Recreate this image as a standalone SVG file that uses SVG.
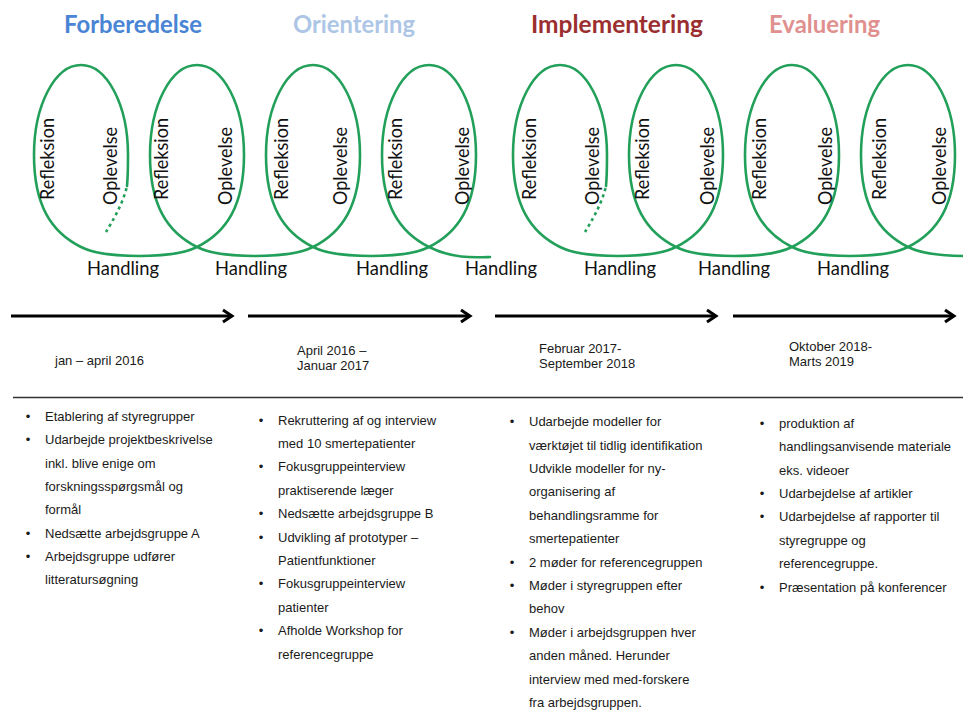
<svg xmlns="http://www.w3.org/2000/svg" width="963" height="710" viewBox="0 0 963 710">
  <style>
    .phase { font-family: Lato, "Open Sans", sans-serif; font-weight: bold; font-size: 24px; }
    .loop { fill: none; stroke: #22a05a; stroke-width: 2.6; stroke-linejoin: round; stroke-linecap: round; }
    .loop-start { fill: none; stroke: #22a05a; stroke-width: 2.6; stroke-dasharray: 3 3.5; }
    .cyc { font-family: Lato, "Open Sans", sans-serif; font-size: 19px; fill: #111; }
    .arrow { fill: none; stroke: #000; stroke-width: 3; }
    .head { fill: none; stroke: #000; stroke-width: 3; stroke-linejoin: miter; }
    .date { font-family: "Liberation Sans", Arial, sans-serif; font-size: 13px; fill: #1a1a1a; }
    .item { font-family: "Liberation Sans", Arial, sans-serif; font-size: 13px; fill: #1a1a1a; }
    .bullet { font-family: "Liberation Sans", Arial, sans-serif; font-size: 13px; fill: #1a1a1a; text-anchor: middle; }
  </style>
  <defs>
    <!-- one run of four experiential-learning loops -->
    <path id="loops" d="M127,186 C128,176 128,166 128,155
      C128,105 107,65 81,65 C55,65 34,105 34,155 C34,205 51,232 81,247
      C105,259 173,259 197,247
      C227,232 244,205 244,155 C244,105 223,65 197,65 C171,65 150,105 150,155 C150,205 167,232 197,247
      C221,259 289,259 313,247
      C343,232 360,205 360,155 C360,105 339,65 313,65 C287,65 266,105 266,155 C266,205 283,232 313,247
      C337,259 405,259 429,247
      C459,232 476,205 476,155 C476,105 455,65 429,65 C403,65 382,105 382,155 C382,205 399,232 429,247"/>
  </defs>

  <!-- phase headings -->
  <g id="phases">
    <text class="phase" x="64" y="33" fill="#4a84d4" textLength="138" lengthAdjust="spacingAndGlyphs">Forberedelse</text>
    <text class="phase" x="293" y="33" fill="#aec6e6" textLength="122" lengthAdjust="spacingAndGlyphs">Orientering</text>
    <text class="phase" x="531" y="33" fill="#9b2f2f" textLength="172" lengthAdjust="spacingAndGlyphs">Implementering</text>
    <text class="phase" x="769" y="33" fill="#e0908e" textLength="111" lengthAdjust="spacingAndGlyphs">Evaluering</text>
  </g>

  <!-- learning-cycle loops -->
  <g id="cycle-left">
    <path class="loop-start" d="M106,232 C112,222 123,204 127,186"/>
    <use href="#loops" class="loop"/>
    <path class="loop" d="M429,247 C453,259 475,257.5 490,257"/>
  </g>
  <g id="cycle-right" transform="translate(479,0)">
    <path class="loop-start" d="M106,232 C112,222 123,204 127,186"/>
    <use href="#loops" class="loop"/>
    <path class="loop" d="M429,247 C453,259 521,259 545,247"/>
  </g>

  <!-- loop labels -->
  <g id="cycle-labels" class="cyc" text-anchor="middle">
    <text transform="translate(54,159) rotate(-90)" textLength="82" lengthAdjust="spacingAndGlyphs">Refleksion</text>
    <text transform="translate(117,166) rotate(-90)" textLength="78" lengthAdjust="spacingAndGlyphs">Oplevelse</text>
    <text transform="translate(168,159) rotate(-90)" textLength="82" lengthAdjust="spacingAndGlyphs">Refleksion</text>
    <text transform="translate(232,166) rotate(-90)" textLength="78" lengthAdjust="spacingAndGlyphs">Oplevelse</text>
    <text transform="translate(288,159) rotate(-90)" textLength="82" lengthAdjust="spacingAndGlyphs">Refleksion</text>
    <text transform="translate(347,166) rotate(-90)" textLength="78" lengthAdjust="spacingAndGlyphs">Oplevelse</text>
    <text transform="translate(402,159) rotate(-90)" textLength="82" lengthAdjust="spacingAndGlyphs">Refleksion</text>
    <text transform="translate(469,166) rotate(-90)" textLength="78" lengthAdjust="spacingAndGlyphs">Oplevelse</text>
    <text transform="translate(536,159) rotate(-90)" textLength="82" lengthAdjust="spacingAndGlyphs">Refleksion</text>
    <text transform="translate(599,166) rotate(-90)" textLength="78" lengthAdjust="spacingAndGlyphs">Oplevelse</text>
    <text transform="translate(649,159) rotate(-90)" textLength="82" lengthAdjust="spacingAndGlyphs">Refleksion</text>
    <text transform="translate(714,166) rotate(-90)" textLength="78" lengthAdjust="spacingAndGlyphs">Oplevelse</text>
    <text transform="translate(766,159) rotate(-90)" textLength="82" lengthAdjust="spacingAndGlyphs">Refleksion</text>
    <text transform="translate(832,166) rotate(-90)" textLength="78" lengthAdjust="spacingAndGlyphs">Oplevelse</text>
    <text transform="translate(886,159) rotate(-90)" textLength="82" lengthAdjust="spacingAndGlyphs">Refleksion</text>
    <text transform="translate(946,166) rotate(-90)" textLength="78" lengthAdjust="spacingAndGlyphs">Oplevelse</text>
  </g>
  <g id="action-labels" class="cyc">
    <text x="87" y="275" textLength="72" lengthAdjust="spacingAndGlyphs">Handling</text>
    <text x="215" y="275" textLength="72" lengthAdjust="spacingAndGlyphs">Handling</text>
    <text x="356" y="275" textLength="72" lengthAdjust="spacingAndGlyphs">Handling</text>
    <text x="465" y="275" textLength="72" lengthAdjust="spacingAndGlyphs">Handling</text>
    <text x="584" y="275" textLength="72" lengthAdjust="spacingAndGlyphs">Handling</text>
    <text x="698" y="275" textLength="72" lengthAdjust="spacingAndGlyphs">Handling</text>
    <text x="817" y="275" textLength="72" lengthAdjust="spacingAndGlyphs">Handling</text>
  </g>

  <!-- timeline arrows -->
  <g id="timeline">
    <line class="arrow" x1="11" y1="316" x2="230" y2="316"/>
    <path class="head" d="M223,310 L232,316 L223,322"/>
    <line class="arrow" x1="248" y1="316" x2="468" y2="316"/>
    <path class="head" d="M461,310 L470,316 L461,322"/>
    <line class="arrow" x1="495" y1="316" x2="714" y2="316"/>
    <path class="head" d="M707,310 L716,316 L707,322"/>
    <line class="arrow" x1="733" y1="316" x2="952" y2="316"/>
    <path class="head" d="M945,310 L954,316 L945,322"/>
  </g>

  <g id="periods" class="date">
    <text x="55" y="365">jan – april 2016</text>
    <text x="297" y="355">April 2016 –</text>
    <text x="297" y="370">Januar 2017</text>
    <text x="539" y="353">Februar 2017-</text>
    <text x="539" y="368">September 2018</text>
    <text x="789" y="351">Oktober 2018-</text>
    <text x="789" y="366">Marts 2019</text>
  </g>

  <line id="divider" x1="13" y1="397.5" x2="963" y2="397.5" stroke="#333" stroke-width="1.5"/>

  <!-- activity lists -->
  <g id="list-forberedelse">
    <g class="bullet">
      <text x="28" y="421">•</text>
      <text x="28" y="444.3">•</text>
      <text x="28" y="537.7">•</text>
      <text x="28" y="561">•</text>
    </g>
    <g class="item">
      <text x="45" y="421">Etablering af styregrupper</text>
      <text x="45" y="444.3">Udarbejde projektbeskrivelse</text>
      <text x="45" y="467.7">inkl. blive enige om</text>
      <text x="45" y="491">forskningsspørgsmål og</text>
      <text x="45" y="514.3">formål</text>
      <text x="45" y="537.7">Nedsætte arbejdsgruppe A</text>
      <text x="45" y="561">Arbejdsgruppe udfører</text>
      <text x="45" y="584.3">litteratursøgning</text>
    </g>
  </g>

  <g id="list-orientering">
    <g class="bullet">
      <text x="261" y="424.5">•</text>
      <text x="261" y="471.3">•</text>
      <text x="261" y="518.1">•</text>
      <text x="261" y="541.5">•</text>
      <text x="261" y="588.3">•</text>
      <text x="261" y="635.1">•</text>
    </g>
    <g class="item">
      <text x="278" y="424.5">Rekruttering af og interview</text>
      <text x="278" y="447.9">med 10 smertepatienter</text>
      <text x="278" y="471.3">Fokusgruppeinterview</text>
      <text x="278" y="494.7">praktiserende læger</text>
      <text x="278" y="518.1">Nedsætte arbejdsgruppe B</text>
      <text x="278" y="541.5">Udvikling af prototyper –</text>
      <text x="278" y="564.9">Patientfunktioner</text>
      <text x="278" y="588.3">Fokusgruppeinterview</text>
      <text x="278" y="611.7">patienter</text>
      <text x="278" y="635.1">Afholde Workshop for</text>
      <text x="278" y="658.5">referencegruppe</text>
    </g>
  </g>

  <g id="list-implementering">
    <g class="bullet">
      <text x="512" y="426.2">•</text>
      <text x="512" y="566.6">•</text>
      <text x="512" y="590">•</text>
      <text x="512" y="636.8">•</text>
    </g>
    <g class="item">
      <text x="529" y="426.2">Udarbejde modeller for</text>
      <text x="529" y="449.6">værktøjet til tidlig identifikation</text>
      <text x="529" y="473">Udvikle modeller for ny-</text>
      <text x="529" y="496.4">organisering af</text>
      <text x="529" y="519.8">behandlingsramme for</text>
      <text x="529" y="543.2">smertepatienter</text>
      <text x="529" y="566.6">2 møder for referencegruppen</text>
      <text x="529" y="590">Møder i styregruppen efter</text>
      <text x="529" y="613.4">behov</text>
      <text x="529" y="636.8">Møder i arbejdsgruppen hver</text>
      <text x="529" y="660.2">anden måned. Herunder</text>
      <text x="529" y="683.6">interview med med-forskere</text>
      <text x="529" y="707">fra arbejdsgruppen.</text>
    </g>
  </g>

  <g id="list-evaluering">
    <g class="bullet">
      <text x="762" y="427.8">•</text>
      <text x="762" y="498">•</text>
      <text x="762" y="521.4">•</text>
      <text x="762" y="591.6">•</text>
    </g>
    <g class="item">
      <text x="779" y="427.8">produktion af</text>
      <text x="779" y="451.2">handlingsanvisende materiale</text>
      <text x="779" y="474.6">eks. videoer</text>
      <text x="779" y="498">Udarbejdelse af artikler</text>
      <text x="779" y="521.4">Udarbejdelse af rapporter til</text>
      <text x="779" y="544.8">styregruppe og</text>
      <text x="779" y="568.2">referencegruppe.</text>
      <text x="779" y="591.6">Præsentation på konferencer</text>
    </g>
  </g>
</svg>
